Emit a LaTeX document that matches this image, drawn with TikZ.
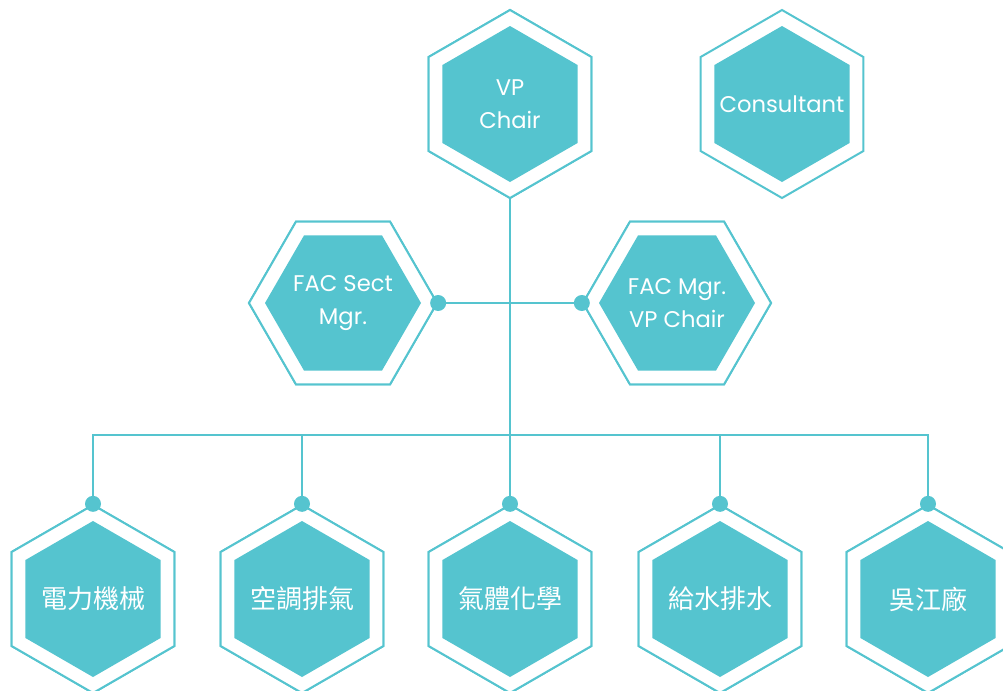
\documentclass[tikz,border=0pt]{standalone}
\usepackage{fontspec}
\setmainfont{Poppins}
\newfontfamily\cjk{Noto Sans CJK TC}
\usetikzlibrary{shapes.geometric}
\definecolor{hexteal}{HTML}{55C4CF}
\begin{document}
\begin{tikzpicture}[x=0.75pt,y=-0.75pt,
  outerhex/.style={regular polygon, regular polygon sides=6, minimum size=141pt, inner sep=0pt, draw=hexteal, line width=1.5pt, fill=white},
  innerhex/.style={regular polygon, regular polygon sides=6, minimum size=117pt, inner sep=0pt, fill=hexteal},
  hextext/.style={text=white, align=center, inner sep=0pt, font=\fontsize{17}{24.5}\selectfont},
  cjktext/.style={hextext, font=\cjk\fontsize{19.5}{22}\selectfont},
  pointy/.style={shape border rotate=30},
  conn/.style={draw=hexteal, line width=1.5pt},
  dot/.style={fill=hexteal}]
\useasboundingbox (0,0) rectangle (1003,690);
\coordinate (bus) at (510,435);
% outer hexagons (placed first so connectors can use their anchors)
\node[outerhex,pointy] (vpo) at (510,104) {};
\node[outerhex] (fso) at (343,303) {};
\node[outerhex] (fmo) at (677,303) {};
\foreach \n/\x in {1/93,2/302,3/510,4/720,5/928}{
  \node[outerhex,pointy] (e\n o) at (\x,599) {};
}
\draw[conn] (vpo.south) -- (e3o.north);
\draw[conn] (fso.east) -- (fmo.west);
\draw[conn] (e1o.north) -- (e1o.north |- bus) -- (e5o.north |- bus) -- (e5o.north);
\draw[conn] (e2o.north) -- (e2o.north |- bus);
\draw[conn] (e4o.north) -- (e4o.north |- bus);
% hexagons
\node[outerhex,pointy] (vpo) at (510,104) {};
\node[innerhex,pointy] (vp) at (510,104) {};
\node[hextext] (vpt) at (510,104) {VP\\Chair};
\node[outerhex,pointy] (cno) at (782,104) {};
\node[innerhex,pointy] (cn) at (782,104) {};
\node[hextext] (cnt) at (782,104) {Consultant};
\node[outerhex] (fso) at (343,303) {};
\node[innerhex] (fs) at (343,303) {};
\node[hextext] (fst) at (343,303) {FAC Sect\\Mgr.};
\node[outerhex] (fmo) at (677,303) {};
\node[innerhex] (fm) at (677,303) {};
\node[hextext] (fmt) at (677,303) {FAC Mgr.\\VP Chair};
\foreach \n/\x/\t in {1/93/電力機械,2/302/空調排氣,3/510/氣體化學,4/720/給水排水,5/928/吳江廠}{
  \node[outerhex,pointy] (e\n o) at (\x,599) {};
  \node[innerhex,pointy] (e\n) at (\x,599) {};
  \node[cjktext] (e\n t) at (\x,599) {\t};
  \fill[dot] (e\n o.north) circle[radius=6pt];
}
\fill[dot] (fso.east) circle[radius=6pt];
\fill[dot] (fmo.west) circle[radius=6pt];
\end{tikzpicture}
\end{document}
